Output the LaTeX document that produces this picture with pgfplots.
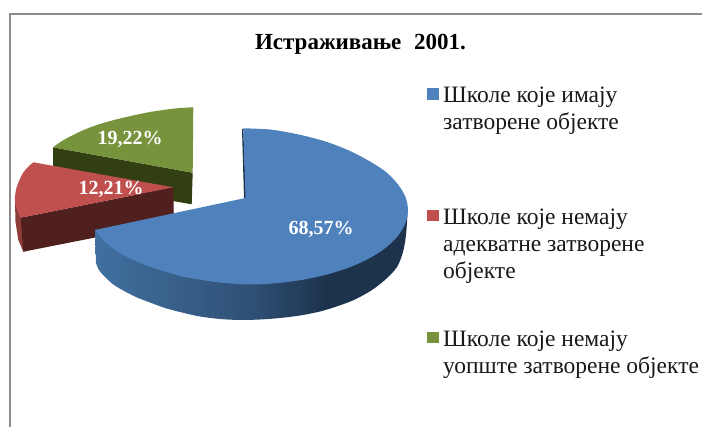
\documentclass[border=0pt]{standalone}
\usepackage{fontspec}
\setmainfont{Liberation Serif}
\usepackage{pgfplots}
\pgfplotsset{compat=1.18}
\definecolor{bluetop}{HTML}{4F81BD}
\definecolor{redtop}{HTML}{C0504D}
\definecolor{greentop}{HTML}{77933C}
\definecolor{greenside}{HTML}{313F13}
\definecolor{redside}{HTML}{4F201E}
\definecolor{redouter}{HTML}{8F3D3A}
\definecolor{framegray}{HTML}{8C8C8C}
\definecolor{bluesideA}{HTML}{41709F}
\definecolor{bluesideB}{HTML}{2F5075}
\definecolor{bluesideC}{HTML}{1D334C}
\pgfdeclarehorizontalshading{blueside}{100bp}{
 color(0bp)=(bluesideA);
 color(25bp)=(bluesideA);
 color(50bp)=(bluesideB);
 color(62bp)=(bluesideC);
 color(100bp)=(bluesideC)}
\begin{document}
\begin{tikzpicture}
\begin{axis}[
  scale only axis, width=702pt, height=427pt,
  xmin=0, xmax=702, ymin=0, ymax=427, y dir=reverse,
  axis lines=none, clip=true]
\addplot[fill=white, draw=none] coordinates {(0,0)(702,0)(702,427)(0,427)} --cycle;
% frame
\addplot[draw=framegray, line width=1.7pt] coordinates {(10,427)(10,14)(702,14)};
% green slice
\addplot[fill=greenside, draw=none] coordinates {(53,147.3)(192.7,172.7)(191.7,204.3)(53,180)} --cycle;
\addplot[fill=greentop, draw=none, smooth] coordinates {(193.3,107.3)(180,108)(166.7,109.5)(150,112)(133,115.5)(116,119.5)(100,124)(86,129)(73,135)(62,141)(53,147.3)} -- (axis cs:192.7,172.7) --cycle;
% red slice
\addplot[fill=redouter, draw=none] coordinates {(15,201.7)(20.7,217.7)(173,200)(173.3,213)(23.3,251.7)(18.3,240)(15.5,222)} --cycle;
\addplot[fill=redside, draw=none] coordinates {(20.7,217.7)(173.3,187.3)(173.8,222)(23.3,251.7)} --cycle;
\addplot[fill=redtop, draw=none, smooth] coordinates {(33.3,162.3)(28,167)(23,173)(19.5,180)(16.7,187)(15.3,194)(15,201.7)(17,210)(20.7,217.7)} -- (axis cs:173.3,187.3) --cycle;
% blue slice
\addplot[shading=blueside, draw=none, smooth] coordinates {(407.5,214)(406,235)(403,252)(397,267)(386,279)(372,290)(355,299.5)(338,306)(320,311.5)(300,315.5)(280,318)(260,319.5)(240,320)(220,319)(200,316.5)(182,312.5)(165,308)(150,302.5)(137,297.5)(125,291.5)(114,285)(105,277)(99,270)(96,263)} -- (axis cs:95,230) --cycle;
\addplot[fill=bluesideC, draw=none] coordinates {(243.3,129)(242,129)(244,198)(246,198)} --cycle;
\addplot[fill=bluetop, draw=none, smooth] coordinates {(243.3,128.3)(258,128.8)(274,130)(301,135)(327,142)(350,151)(370,161.5)(386,172)(398,184.5)(405.5,197)(408,210)(405.5,223)(398.2,235.5)(386.3,247.3)(370.1,257.9)(350.1,267.1)(327,274.5)(301.4,280)(274.1,283.4)(250,284.5)(234,283.8)(218,282.3)(202,280)(185,277)(168,272.5)(152,267.5)(138,262)(125,256)(114,249)(104,241)(95,230)} -- (axis cs:245.5,198) --cycle;
% legend keys
\addplot[fill=bluetop, draw=none] coordinates {(427,88.5)(438.5,88.5)(438.5,100)(427,100)} --cycle;
\addplot[fill=redtop, draw=none] coordinates {(427,210)(438.5,210)(438.5,221.5)(427,221.5)} --cycle;
\addplot[fill=greentop, draw=none] coordinates {(427,332)(438.5,332)(438.5,343.5)(427,343.5)} --cycle;
% texts
\node[anchor=base, font=\fontsize{23}{23}\selectfont\bfseries] at (axis cs:360.5,50) {Истраживање\hspace{7pt} 2001.};
\node[text=white, font=\fontsize{20}{20}\selectfont\bfseries] at (axis cs:321,229.5) {68,57\%};
\node[text=white, font=\fontsize{20}{20}\selectfont\bfseries] at (axis cs:130,139.5) {19,22\%};
\node[text=white, font=\fontsize{20}{20}\selectfont\bfseries] at (axis cs:111,189.5) {12,21\%};
\tikzset{leg/.style={anchor=base west, inner sep=0pt, font=\fontsize{23.5}{23.5}\selectfont, text=black!90}}
\node[leg] at (axis cs:443,103) {Школе које имају};
\node[leg] at (axis cs:443,130) {затворене објекте};
\node[leg] at (axis cs:443,225) {Школе које немају};
\node[leg] at (axis cs:443,252) {адекватне затворене};
\node[leg] at (axis cs:443,279) {објекте};
\node[leg] at (axis cs:443,347) {Школе које немају};
\node[leg] at (axis cs:443,374) {уопште затворене објекте};
\end{axis}
\end{tikzpicture}
\end{document}
